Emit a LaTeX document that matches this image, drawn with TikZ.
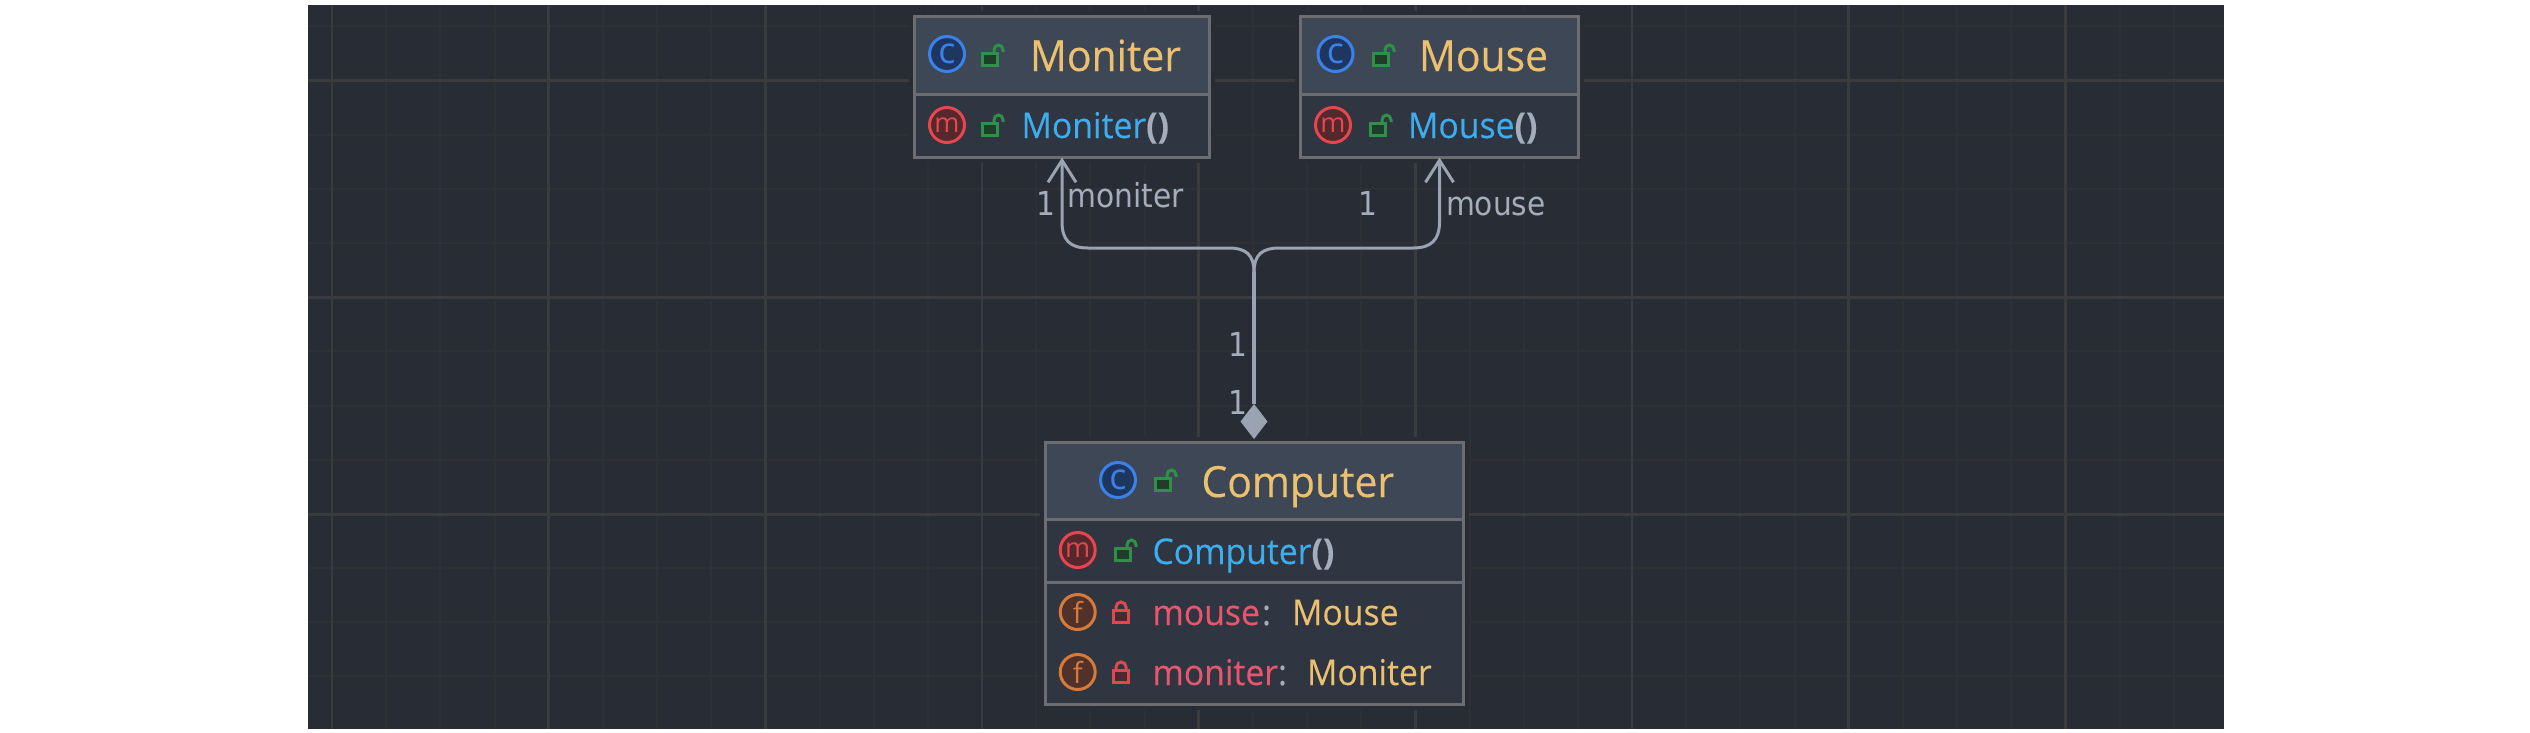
\documentclass[tikz,border=0pt]{standalone}
\usepackage{fontspec}
\usetikzlibrary{arrows.meta,shapes.geometric}
\newfontfamily\uifont[FakeStretch=0.95,FakeBold=0.25]{Open Sans}
\newfontfamily\iconfont{Open Sans}
\newfontfamily\lblfont[FakeStretch=0.9]{DejaVu Sans}
\definecolor{bgc}{HTML}{282D35}
\definecolor{gridmin}{HTML}{2E3033}
\definecolor{gridmaj}{HTML}{393B3D}
\definecolor{headc}{HTML}{3E4756}
\definecolor{bodyc}{HTML}{2F3541}
\definecolor{edgec}{HTML}{6B6D70}
\definecolor{linec}{HTML}{9AA3B2}
\definecolor{yel}{HTML}{EBC06E}
\definecolor{blu}{HTML}{3DADEE}
\definecolor{redt}{HTML}{E8566E}
\definecolor{gry}{HTML}{A3ADBC}
\definecolor{lockg}{HTML}{2F9048}
\definecolor{lockgf}{HTML}{1F3D2A}
\definecolor{lockr}{HTML}{E04850}
\definecolor{lockrf}{HTML}{4A2A30}
\definecolor{iconblue}{HTML}{3B82E8}
\definecolor{iconbluef}{HTML}{1F3660}
\definecolor{iconred}{HTML}{E5474F}
\definecolor{iconredf}{HTML}{54282C}
\definecolor{iconor}{HTML}{D67A3C}
\definecolor{iconorf}{HTML}{50322A}
\tikzset{
  x=1pt,y=-1pt,
  umlbody/.style={rectangle,draw=edgec,fill=bodyc,line width=3pt,inner sep=0,outer sep=0,
    preaction={draw=bgc,line width=11pt}},
  umlhead/.style={rectangle,fill=headc,inner sep=0,outer sep=0},
  sepline/.style={draw=edgec,line width=3pt},
  conn/.style={draw=linec,line width=3pt},
  icon/.style={circle,line width=3pt,minimum size=35pt,inner sep=0,outer sep=0},
  iconc/.style={icon,draw=iconblue,fill=iconbluef,text=iconblue,font=\iconfont\fontsize{36}{36}\selectfont},
  iconm/.style={icon,draw=iconred,fill=iconredf,text=iconred,font=\iconfont\fontsize{27}{27}\selectfont},
  iconf/.style={icon,draw=iconor,fill=iconorf,text=iconor,font=\iconfont\fontsize{29}{29}\selectfont},
  title/.style={anchor=base west,inner sep=0,outer sep=0,text=yel,font=\uifont\fontsize{43}{46}\selectfont},
  member/.style={anchor=base west,inner sep=0,outer sep=0,font=\uifont\fontsize{35.5}{40}\selectfont},
  lbl/.style={anchor=base west,inner sep=0,outer sep=0,text=gry,font=\lblfont\fontsize{33}{36}\selectfont},
  openlock/.pic={
    \draw[lockg,line width=3pt,fill=lockgf] (-10,-2) rectangle (5,10);
    \draw[lockg,line width=3pt] (2,-2) -- (2,-5) arc[start angle=180,end angle=0,x radius=4.5,y radius=-5] -- (11,-3);
  },
  closedlock/.pic={
    \draw[lockr,line width=3pt,fill=lockrf] (-7.5,-2) rectangle (7.5,10);
    \draw[lockr,line width=3pt] (-5,-2) -- (-5,-5) arc[start angle=180,end angle=0,x radius=5,y radius=-5] -- (5,-2);
  },
}
\begin{document}
\begin{tikzpicture}
\useasboundingbox (0,0) rectangle (2530,732);
\fill[white] (0,0) rectangle (2530,732);
\fill[bgc] (308,5) rectangle (2224,729);
\begin{scope}
\clip (308,5) rectangle (2224,729);
\foreach \k in {0,...,35} {
  \pgfmathsetmacro{\gx}{332+54.17*\k}
  \pgfmathtruncatemacro{\mj}{mod(\k,4)==0}
  \ifnum\mj=1\relax\else\draw[gridmin,line width=2pt] (\gx,5) -- (\gx,729);\fi
}
\foreach \k in {0,...,12} {
  \pgfmathsetmacro{\gy}{26.4+54.17*\k}
  \pgfmathtruncatemacro{\mj}{mod(\k,4)==1}
  \ifnum\mj=1\relax\else\draw[gridmin,line width=2pt] (308,\gy) -- (2224,\gy);\fi
}
\foreach \k in {0,...,8} {
  \pgfmathsetmacro{\gx}{332+216.68*\k}
  \draw[gridmaj,line width=2.6pt] (\gx,5) -- (\gx,729);
}
\foreach \k in {0,...,2} {
  \pgfmathsetmacro{\gy}{80.6+216.9*\k}
  \draw[gridmaj,line width=2.6pt] (308,\gy) -- (2224,\gy);
}
\end{scope}

% boxes
\node[umlbody,minimum width=295pt,minimum height=141pt] (moniterBox) at (1062,87) {};
\node[umlhead,minimum width=292pt,minimum height=76pt] (moniterHead) at (1062,55.5) {};
\draw[sepline] (moniterBox.west |- 0,94.5) coordinate (ma) -- (moniterBox.east |- 0,94.5) coordinate (mb);

\node[umlbody,minimum width=278pt,minimum height=141pt] (mouseBox) at (1439.5,87) {};
\node[umlhead,minimum width=275pt,minimum height=76pt] (mouseHead) at (1439.5,55.5) {};
\draw[sepline] (mouseBox.west |- 0,94.5) coordinate (mc) -- (mouseBox.east |- 0,94.5) coordinate (md);

\node[umlbody,minimum width=418pt,minimum height=262pt] (computerBox) at (1254.5,573.5) {};
\node[umlhead,minimum width=415pt,minimum height=75pt] (computerHead) at (1254.5,481.5) {};
\draw[sepline] (computerBox.west |- 0,519.5) coordinate (ca) -- (computerBox.east |- 0,519.5) coordinate (cb);
\draw[sepline] (computerBox.west |- 0,582) coordinate (cc) -- (computerBox.east |- 0,582) coordinate (cd);
\draw[edgec,line width=3pt] (computerBox.north west) rectangle (computerBox.south east);
\draw[edgec,line width=3pt] (moniterBox.north west) rectangle (moniterBox.south east);
\draw[edgec,line width=3pt] (mouseBox.north west) rectangle (mouseBox.south east);

% Moniter contents
\node[iconc] (mIconC) at (947,54) {c};
\pic at (992,55) {openlock};
\node[title] (mTitle) at (1030,71) {Moniter};
\node[iconm] (mIconM) at (947,125) {m};
\pic at (992,125) {openlock};
\node[member] (mMethod) at (1021.5,138) {\textcolor{blu}{Moniter}\textcolor{gry}{\bfseries()}};

% Mouse contents
\node[iconc] (oIconC) at (1335.5,54) {c};
\pic at (1383,55) {openlock};
\node[title] (oTitle) at (1419,71) {Mouse};
\node[iconm] (oIconM) at (1333,125) {m};
\pic at (1380,125) {openlock};
\node[member] (oMethod) at (1408,138) {\textcolor{blu}{Mouse}\textcolor{gry}{\bfseries()}};

% Computer contents
\node[iconc] (cIconC) at (1118,480) {c};
\pic at (1165,480) {openlock};
\node[title] (cTitle) at (1201.5,497) {Computer};
\node[iconm] (cIconM) at (1077.7,550) {m};
\pic at (1125,550) {openlock};
\node[member] (cMethod) at (1152.5,564) {\textcolor{blu}{Computer}\textcolor{gry}{\bfseries()}};
\node[iconf] (cIconF1) at (1077.7,612) {f};
\pic at (1121,612) {closedlock};
\node[member,text=redt] (cF1) at (1152.5,625) {mouse};
\node[member,text=gry] (cF1c) at (1262,625) {:};
\node[member,text=yel] (cF1t) at (1292,625) {Mouse};
\node[iconf] (cIconF2) at (1077.7,672) {f};
\pic at (1121,672) {closedlock};
\node[member,text=redt] (cF2) at (1152.5,685) {moniter};
\node[member,text=gry] (cF2c) at (1278,685) {:};
\node[member,text=yel] (cF2t) at (1307,685) {Moniter};

% connectors
\node[diamond,fill=linec,inner sep=0,outer sep=0,minimum width=27pt,minimum height=35pt,aspect=1,shape aspect=1] (comp) at (1254,421.5) {};
\coordinate (fork) at (1254,272);
\draw[conn,line width=4pt] (comp.north) -- (fork);
\draw[conn,-{Straight Barb[length=22pt,width=28pt,line width=3pt]}] (fork)
  .. controls (1254,255) and (1246,248) .. (1229,248) -- (1088,248)
  .. controls (1070,248) and (1062,240) .. (1062,222) -- (moniterBox.south);
\draw[conn,-{Straight Barb[length=22pt,width=28pt,line width=3pt]}] (fork)
  .. controls (1254,255) and (1262,248) .. (1279,248) -- (1413,248)
  .. controls (1431,248) and (1439.5,240) .. (1439.5,222) -- (mouseBox.south);

% labels
\node[lbl] (l1) at (1036,215) {1};
\node[lbl] (l2) at (1067.5,207) {moniter};
\node[lbl] (l3) at (1358,215) {1};
\node[lbl] (l4) at (1446,215) {mouse};
\node[lbl] (l5) at (1228,356) {1};
\node[lbl] (l6) at (1228,414) {1};
\end{tikzpicture}
\end{document}
